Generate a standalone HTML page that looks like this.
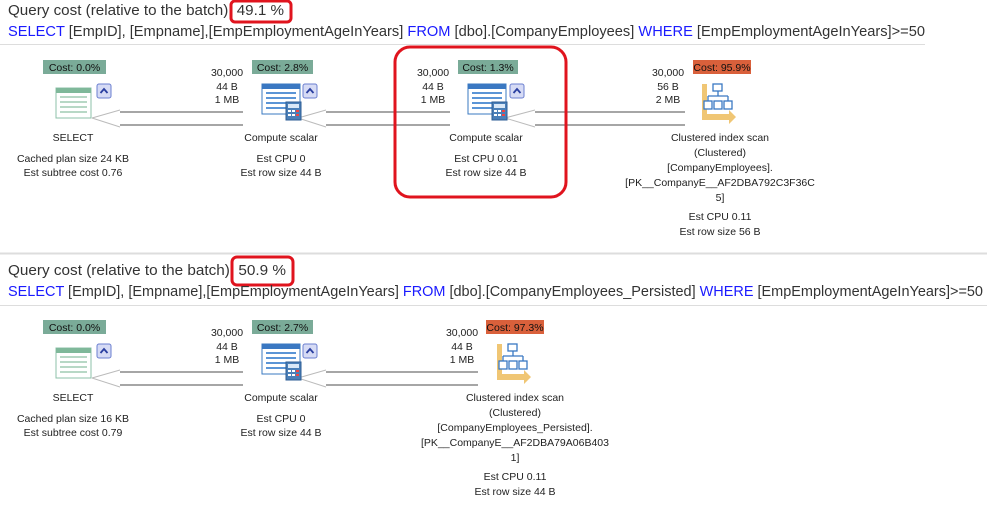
<!DOCTYPE html>
<html><head><meta charset="utf-8"><style>
body{margin:0;background:#fff;}
svg{display:block;font-family:"Liberation Sans",sans-serif;}
.h{font-size:14.5px;fill:#333;}
.k{fill:#1a1aff;}
.n{font-size:10.5px;fill:#222;text-anchor:middle;}
.c{font-size:10.5px;fill:#111;text-anchor:middle;}
</style></head><body>
<svg width="987" height="518" viewBox="0 0 987 518">
<defs>
<g id="sel">
  <rect x="-17" y="-20" width="35" height="30" fill="#fff" stroke="#8cc0a8"/>
  <rect x="-17" y="-20" width="35" height="5" fill="#7fb89a"/>
  <g stroke="#b8d8c6" stroke-width="2"><line x1="-13" y1="-11" x2="14" y2="-11"/><line x1="-13" y1="-6" x2="14" y2="-6"/><line x1="-13" y1="-1" x2="14" y2="-1"/><line x1="-13" y1="4" x2="14" y2="4"/></g>
</g>
<g id="cmp">
  <rect x="-20" y="-24" width="38" height="30" fill="#fff" stroke="#3a78c2"/>
  <rect x="-20" y="-24" width="38" height="5" fill="#3a78c2"/>
  <g stroke="#5b95d6" stroke-width="2"><line x1="-16" y1="-15" x2="14" y2="-15"/><line x1="-16" y1="-10" x2="14" y2="-10"/><line x1="-16" y1="-5" x2="14" y2="-5"/><line x1="-16" y1="0" x2="4" y2="0"/></g>
  <rect x="4" y="-6" width="15" height="18" fill="#4a7fb8" stroke="#2d5d94"/>
  <rect x="6" y="-4" width="11" height="4" fill="#d9e8f7"/>
  <g fill="#fff"><rect x="6" y="2" width="3" height="2"/><rect x="10" y="2" width="3" height="2"/><rect x="14" y="2" width="3" height="2" fill="#e44"/><rect x="6" y="6" width="3" height="2"/><rect x="10" y="6" width="3" height="2"/><rect x="14" y="6" width="3" height="2" fill="#e44"/></g>
</g>
<g id="scan">
  <path d="M-16,-22 h5 v30 h22 v-4 l7,7 l-7,7 v-4 h-27 z" fill="#f0c674"/>
  <g fill="#fff" stroke="#3a78c2" stroke-width="1.3"><rect x="-5" y="-22" width="9" height="7"/><rect x="-14" y="-5" width="8" height="8"/><rect x="-4" y="-5" width="8" height="8"/><rect x="6" y="-5" width="8" height="8"/></g>
  <path d="M0,-15 v5 M-10,-10 h20 M-10,-10 v5 M10,-10 v5" stroke="#3a78c2" stroke-width="1.3" fill="none"/>
</g>
<g id="chev">
  <rect x="0" y="0" width="14" height="14" rx="2" fill="#d6dbf5" stroke="#6b7fd0"/>
  <path d="M3.5,9 L7,5 L10.5,9" stroke="#2a3fa0" stroke-width="1.8" fill="none"/>
</g>
</defs>

<!-- header 1 -->
<text x="8" y="15" class="h" textLength="276" lengthAdjust="spacingAndGlyphs">Query cost (relative to the batch): 49.1 %</text>
<rect x="231" y="1" width="60" height="21" rx="4" fill="none" stroke="#e0141e" stroke-width="3"/>
<text x="8" y="36" class="h" textLength="917" lengthAdjust="spacingAndGlyphs"><tspan class="k">SELECT</tspan> [EmpID], [Empname],[EmpEmploymentAgeInYears] <tspan class="k">FROM</tspan> [dbo].[CompanyEmployees] <tspan class="k">WHERE</tspan> [EmpEmploymentAgeInYears]&gt;=50</text>
<line x1="0" y1="44.5" x2="925" y2="44.5" stroke="#ddd"/>

<line x1="0" y1="253.5" x2="987" y2="253.5" stroke="#ddd" stroke-width="2"/>

<!-- header 2 -->
<text x="8" y="275" class="h" textLength="278" lengthAdjust="spacingAndGlyphs">Query cost (relative to the batch): 50.9 %</text>
<rect x="232" y="257" width="61" height="28" rx="5" fill="none" stroke="#e0141e" stroke-width="3"/>
<text x="8" y="296" class="h" textLength="975" lengthAdjust="spacingAndGlyphs"><tspan class="k">SELECT</tspan> [EmpID], [Empname],[EmpEmploymentAgeInYears] <tspan class="k">FROM</tspan> [dbo].[CompanyEmployees_Persisted] <tspan class="k">WHERE</tspan> [EmpEmploymentAgeInYears]&gt;=50</text>
<line x1="0" y1="305.5" x2="987" y2="305.5" stroke="#ddd"/>

<!-- TOP PLAN -->
<g>
<g stroke="#888" stroke-width="1.5" fill="none">
  <line x1="120" y1="112" x2="243" y2="112"/><line x1="120" y1="125" x2="243" y2="125"/>
  <line x1="326" y1="112" x2="450" y2="112"/><line x1="326" y1="125" x2="450" y2="125"/>
  <line x1="535" y1="112" x2="685" y2="112"/><line x1="535" y1="125" x2="685" y2="125"/>
</g>
<g stroke="#bbb" stroke-width="1"><path d="M92,118 L120,110 M92,118 L120,127"/><path d="M298,118 L326,110 M298,118 L326,127"/><path d="M505,118 L535,110 M505,118 L535,127"/></g>

<rect x="43" y="60" width="63" height="14" fill="#7aab98"/><text x="74.5" y="71" class="c">Cost: 0.0%</text>
<use href="#sel" x="73" y="108"/><use href="#chev" x="97" y="84"/>
<text x="73" y="141" class="n">SELECT</text>
<text x="73" y="162" class="n">Cached plan size  24 KB</text>
<text x="73" y="176" class="n">Est subtree cost  0.76</text>

<rect x="252" y="60" width="61" height="14" fill="#7aab98"/><text x="282.5" y="71" class="c">Cost: 2.8%</text>
<text x="227" y="76" class="n">30,000</text><text x="227" y="90" class="n">44 B</text><text x="227" y="103" class="n">1 MB</text>
<use href="#cmp" x="282" y="108"/><use href="#chev" x="303" y="84"/>
<text x="281" y="141" class="n">Compute scalar</text>
<text x="281" y="162" class="n">Est CPU  0</text>
<text x="281" y="176" class="n">Est row size  44 B</text>

<rect x="458" y="60" width="60" height="14" fill="#7aab98"/><text x="488" y="71" class="c">Cost: 1.3%</text>
<text x="433" y="76" class="n">30,000</text><text x="433" y="90" class="n">44 B</text><text x="433" y="103" class="n">1 MB</text>
<use href="#cmp" x="488" y="108"/><use href="#chev" x="510" y="84"/>
<text x="486" y="141" class="n">Compute scalar</text>
<text x="486" y="162" class="n">Est CPU  0.01</text>
<text x="486" y="176" class="n">Est row size  44 B</text>
<rect x="395" y="47" width="171" height="150" rx="15" fill="none" stroke="#e0141e" stroke-width="3"/>

<rect x="693" y="60" width="58" height="14" fill="#d9603b"/><text x="722" y="71" class="c">Cost: 95.9%</text>
<text x="668" y="76" class="n">30,000</text><text x="668" y="90" class="n">56 B</text><text x="668" y="103" class="n">2 MB</text>
<use href="#scan" x="718" y="106"/>
<text x="720" y="141" class="n">Clustered index scan</text>
<text x="720" y="156" class="n">(Clustered)</text>
<text x="720" y="171" class="n">[CompanyEmployees].</text>
<text x="720" y="186" class="n">[PK__CompanyE__AF2DBA792C3F36C</text>
<text x="720" y="201" class="n">5]</text>
<text x="720" y="220" class="n">Est CPU  0.11</text>
<text x="720" y="235" class="n">Est row size  56 B</text>
</g>

<!-- BOTTOM PLAN -->
<g transform="translate(0,260)">
<g stroke="#888" stroke-width="1.5" fill="none">
  <line x1="120" y1="112" x2="243" y2="112"/><line x1="120" y1="125" x2="243" y2="125"/>
  <line x1="326" y1="112" x2="478" y2="112"/><line x1="326" y1="125" x2="478" y2="125"/>
</g>
<g stroke="#bbb" stroke-width="1"><path d="M92,118 L120,110 M92,118 L120,127"/><path d="M298,118 L326,110 M298,118 L326,127"/></g>

<rect x="43" y="60" width="63" height="14" fill="#7aab98"/><text x="74.5" y="71" class="c">Cost: 0.0%</text>
<use href="#sel" x="73" y="108"/><use href="#chev" x="97" y="84"/>
<text x="73" y="141" class="n">SELECT</text>
<text x="73" y="162" class="n">Cached plan size  16 KB</text>
<text x="73" y="176" class="n">Est subtree cost  0.79</text>

<rect x="252" y="60" width="61" height="14" fill="#7aab98"/><text x="282.5" y="71" class="c">Cost: 2.7%</text>
<text x="227" y="76" class="n">30,000</text><text x="227" y="90" class="n">44 B</text><text x="227" y="103" class="n">1 MB</text>
<use href="#cmp" x="282" y="108"/><use href="#chev" x="303" y="84"/>
<text x="281" y="141" class="n">Compute scalar</text>
<text x="281" y="162" class="n">Est CPU  0</text>
<text x="281" y="176" class="n">Est row size  44 B</text>

<rect x="486" y="60" width="58" height="14" fill="#d9603b"/><text x="515" y="71" class="c">Cost: 97.3%</text>
<text x="462" y="76" class="n">30,000</text><text x="462" y="90" class="n">44 B</text><text x="462" y="103" class="n">1 MB</text>
<use href="#scan" x="513" y="106"/>
<text x="515" y="141" class="n">Clustered index scan</text>
<text x="515" y="156" class="n">(Clustered)</text>
<text x="515" y="171" class="n">[CompanyEmployees_Persisted].</text>
<text x="515" y="186" class="n">[PK__CompanyE__AF2DBA79A06B403</text>
<text x="515" y="201" class="n">1]</text>
<text x="515" y="220" class="n">Est CPU  0.11</text>
<text x="515" y="235" class="n">Est row size  44 B</text>
</g>
</svg>
</body></html>
